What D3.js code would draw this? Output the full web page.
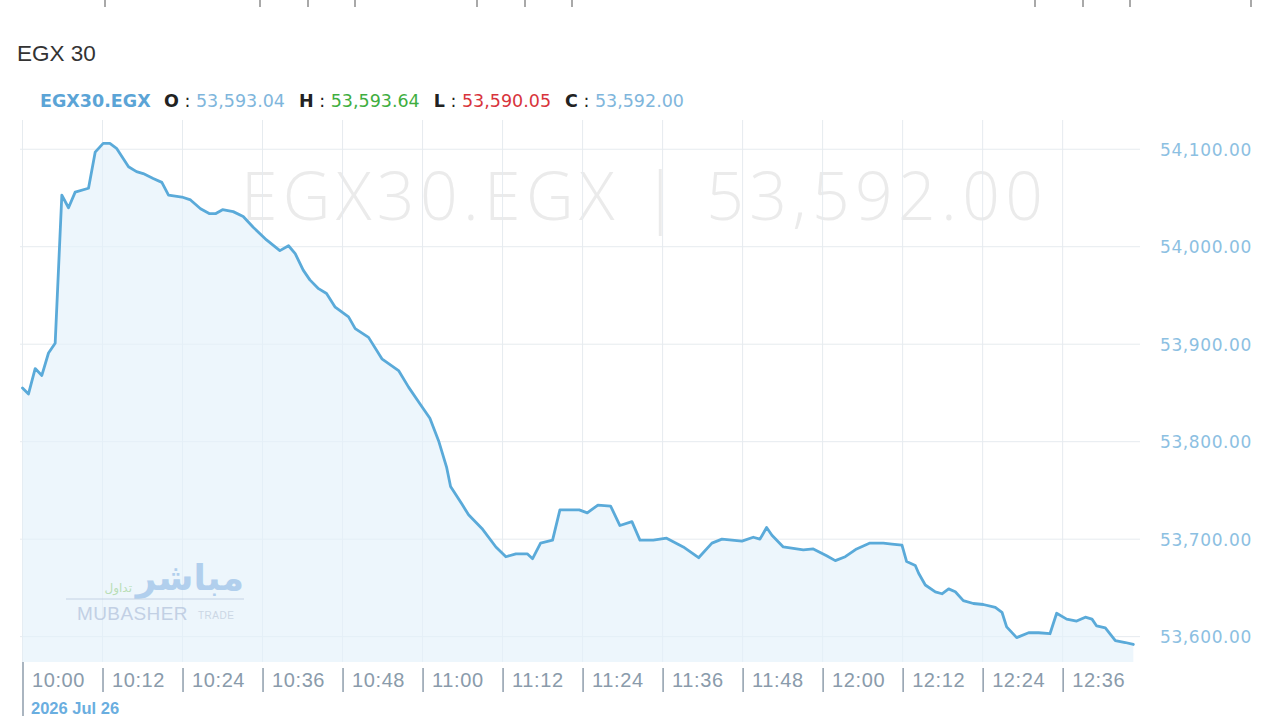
<!DOCTYPE html>
<html>
<head>
<meta charset="utf-8">
<script src="https://cdn.jsdelivr.net/npm/d3@7"></script>
<style>
  body { margin: 0; background: #fff; }
  svg { display: block; }
</style>
</head>
<body>
<svg id="chart" width="1280" height="720"></svg>
<script>
// session data
const sessionDate = '2026-07-26'
const openTime = '10:00'
const minutes = [0, 0.9, 1.9, 2.9, 3.9, 4.9, 5.9, 6.9, 7.9, 9.9, 10.9, 12.1, 13.1, 14.1, 15.9, 17.1, 18.1,
  19.6, 20.9, 21.9, 23.9, 25.2, 26.7, 28, 29, 30, 31.6, 33.1, 34.6, 36.6, 38.6, 39.9, 40.9, 42.1, 43.1,
  44.4, 45.6, 46.9, 48.9, 49.9, 51.9, 53.9, 56.4, 57.9, 59.6, 61.1, 62.4, 63.6, 64.2, 65.9, 66.9, 68.9,
  71, 72.5, 74, 75.7, 76.5, 77.7, 79.5, 80.6, 83.5, 84.7, 86.3, 88.2, 89.6, 91.4, 92.6, 94.6, 96.6, 99.1,
  101.4, 103.4, 104.9, 107.9, 109.6, 110.6, 111.6, 112.4, 114.1, 117.1, 118.6, 120.6, 121.9, 123.4, 125.1,
  127.1, 129.1, 130.4, 131.9, 132.6, 133.9, 134.4, 135.4, 136.9, 137.9, 138.9, 139.9, 141.1, 142.6, 144.1,
  145.9, 146.9, 147.6, 149.1, 150.9, 152.4, 154.1, 155.1, 156.6, 158.1, 159.4, 160.4, 161.1, 162.4, 163.9,
  165.4, 166.6]
const values = [53855, 53849, 53875, 53868, 53891, 53901, 54053, 54040, 54056, 54060, 54097, 54106, 54106,
  54101, 54082, 54077, 54075, 54070, 54066, 54053, 54051, 54048, 54039, 54034, 54034, 54038, 54036, 54031,
  54020, 54007, 53996, 54001, 53993, 53976, 53966, 53957, 53952, 53938, 53928, 53916, 53907, 53885, 53873,
  53856, 53839, 53824, 53801, 53774, 53754, 53736, 53725, 53711, 53692, 53682, 53685, 53685, 53680, 53696,
  53699, 53730, 53730, 53727, 53735, 53734, 53714, 53718, 53699, 53699, 53701, 53692, 53681, 53696, 53700,
  53698, 53702, 53700, 53712, 53704, 53692, 53689, 53690, 53683, 53678, 53682, 53690, 53696, 53696, 53695,
  53694, 53677, 53673, 53665, 53653, 53646, 53644, 53649, 53646, 53637, 53634, 53633, 53630, 53625, 53610,
  53599, 53604, 53604, 53603, 53624, 53618, 53616, 53620, 53618, 53611, 53609, 53596, 53594, 53592]

const yTicks = [53600, 53700, 53800, 53900, 54000, 54100]
const xTickLabels = ['10:00', '10:12', '10:24', '10:36', '10:48', '11:00', '11:12', '11:24', '11:36',
  '11:48', '12:00', '12:12', '12:24', '12:36']

const symbol = 'EGX30.EGX'
const title = 'EGX 30'
const ohlc = [
  {k: 'O', v: '53,593.04', c: '#7fb6dc'},
  {k: 'H', v: '53,593.64', c: '#3fae3f'},
  {k: 'L', v: '53,590.05', c: '#d8343c'},
  {k: 'C', v: '53,592.00', c: '#7fb6dc'}
]
const lastValue = '53,592.00'

// stray ticks of the widget above, cut off at the top edge
const strayTicks = [105, 260, 308, 355, 477, 525, 572, 1035, 1083, 1130, 1251]

const svg = d3.select('#chart')
const plot = {left: 20, right: 1140, top: 120, bottom: 662}

const parseT = d3.timeParse('%Y-%m-%d %H:%M')
const t0 = parseT(`${sessionDate} ${openTime}`)
const data = minutes.map((m, i) => ({date: new Date(t0.getTime() + m * 60000), value: values[i]}))

const xScale = d3.scaleTime()
  .domain([new Date(t0.getTime() - 0.375 * 60000), new Date(t0.getTime() + 167.6 * 60000)])
  .range([plot.left, plot.right])

const yScale = d3.scaleLinear()
  .domain([53574, 54130])
  .range([plot.bottom, plot.top])

const xTicks = xTickLabels.map(s => parseT(`${sessionDate} ${s}`))

svg.append('g')
  .selectAll('line')
  .data(strayTicks)
  .join('line')
  .attr('x1', d => d).attr('x2', d => d)
  .attr('y1', 0).attr('y2', 7)
  .attr('stroke', '#8c8c8c')
  .attr('stroke-width', 1.5)

svg.append('text')
  .attr('x', 17).attr('y', 61)
  .attr('font-family', 'Liberation Sans, Arial, sans-serif')
  .attr('font-size', 22.5)
  .attr('fill', '#333')
  .text(title)

// legend row
const legend = svg.append('text')
  .attr('x', 40).attr('y', 107)
  .attr('font-family', 'DejaVu Sans, sans-serif')
  .attr('font-size', 17.5)
legend.append('tspan').attr('font-weight', 'bold').attr('fill', '#5ba4d6').text(symbol)
ohlc.forEach(d => {
  legend.append('tspan').attr('dx', 14).attr('font-weight', 'bold').attr('fill', '#222').text(d.k)
  legend.append('tspan').attr('fill', '#222').text(' : ')
  legend.append('tspan').attr('fill', d.c).text(d.v)
})

// background watermark
svg.append('text')
  .attr('x', 642).attr('y', 220)
  .attr('text-anchor', 'middle')
  .attr('font-family', 'Open Sans, sans-serif')
  .attr('font-weight', 300)
  .attr('font-size', 66)
  .attr('fill', '#ebebeb')
  .attr('textLength', 802)
  .text(`${symbol}  |  ${lastValue}`)

// grid
svg.append('g')
  .selectAll('line')
  .data(yTicks)
  .join('line')
  .attr('x1', plot.left).attr('x2', plot.right)
  .attr('y1', d => yScale(d)).attr('y2', d => yScale(d))
  .attr('stroke', '#e6ebef')

svg.append('g')
  .selectAll('line')
  .data(xTicks)
  .join('line')
  .attr('x1', d => xScale(d)).attr('x2', d => xScale(d))
  .attr('y1', plot.top).attr('y2', plot.bottom)
  .attr('stroke', '#e6ebef')

// area + line
const area = d3.area()
  .x(d => xScale(d.date))
  .y0(plot.bottom)
  .y1(d => yScale(d.value))

const line = d3.line()
  .x(d => xScale(d.date))
  .y(d => yScale(d.value))

svg.append('path')
  .datum(data)
  .attr('fill', '#e4f1fb')
  .attr('fill-opacity', 0.65)
  .attr('d', area)

svg.append('path')
  .datum(data)
  .attr('fill', 'none')
  .attr('stroke', '#5aaad9')
  .attr('stroke-width', 2.8)
  .attr('stroke-linejoin', 'round')
  .attr('stroke-linecap', 'round')
  .attr('d', line)

// y axis on the right, labels only
const yAxis = svg.append('g')
  .attr('transform', `translate(${plot.right + 20}, 0)`)
  .call(d3.axisRight(yScale).tickValues(yTicks).tickSize(0).tickFormat(d3.format(',.2f')))
yAxis.select('.domain').remove()
yAxis.selectAll('text')
  .attr('x', 0)
  .attr('dy', '0.35em')
  .attr('font-family', 'DejaVu Sans, sans-serif')
  .attr('font-size', 17)
  .attr('letter-spacing', 0.6)
  .attr('fill', '#8cc0e2')

// x axis: separators with labels to their right
const xAxis = svg.append('g')
  .attr('transform', `translate(0, ${plot.bottom + 6})`)
  .call(d3.axisBottom(xScale).tickValues(xTicks).tickSize(24).tickFormat(d3.timeFormat('%H:%M')))
xAxis.select('.domain').remove()
xAxis.selectAll('line').attr('stroke', '#8e9dab').attr('stroke-width', 1.5)
xAxis.selectAll('text')
  .attr('text-anchor', 'start')
  .attr('x', 9)
  .attr('y', 12)
  .attr('dy', '0.35em')
  .attr('font-family', 'Liberation Sans, Arial, sans-serif')
  .attr('font-size', 20)
  .attr('letter-spacing', 0.6)
  .attr('fill', '#8a9bab')
xAxis.select('.tick line').attr('y1', -6).attr('y2', 48)

svg.append('text')
  .attr('x', 31).attr('y', 714)
  .attr('font-family', 'Liberation Sans, Arial, sans-serif')
  .attr('font-weight', 'bold')
  .attr('font-size', 16.5)
  .attr('fill', '#6aaee0')
  .text(d3.timeFormat('%Y %b %-d')(t0))

// faint broker logo
const logo = svg.append('g').attr('opacity', 0.75)
logo.append('text')
  .attr('x', 244).attr('y', 590)
  .attr('text-anchor', 'end')
  .attr('font-family', 'Noto Sans, DejaVu Sans, sans-serif')
  .attr('font-weight', 'bold')
  .attr('font-size', 36)
  .attr('fill', '#9dc3e8')
  .text('مباشر')
logo.append('text')
  .attr('x', 132).attr('y', 592)
  .attr('text-anchor', 'end')
  .attr('font-family', 'DejaVu Sans, sans-serif')
  .attr('font-size', 12)
  .attr('fill', '#a8d7a0')
  .text('تداول')
logo.append('line')
  .attr('x1', 66).attr('x2', 244)
  .attr('y1', 599).attr('y2', 599)
  .attr('stroke', '#b8c8dc')
logo.append('text')
  .attr('x', 77).attr('y', 620)
  .attr('font-family', 'Liberation Sans, Arial, sans-serif')
  .attr('font-size', 19)
  .attr('letter-spacing', 0.4)
  .attr('fill', '#b4c4dc')
  .text('MUBASHER')
logo.append('text')
  .attr('x', 198).attr('y', 619)
  .attr('font-family', 'Liberation Sans, Arial, sans-serif')
  .attr('font-size', 10)
  .attr('letter-spacing', 0.5)
  .attr('fill', '#c0cddd')
  .text('TRADE')
</script>
</body>
</html>
